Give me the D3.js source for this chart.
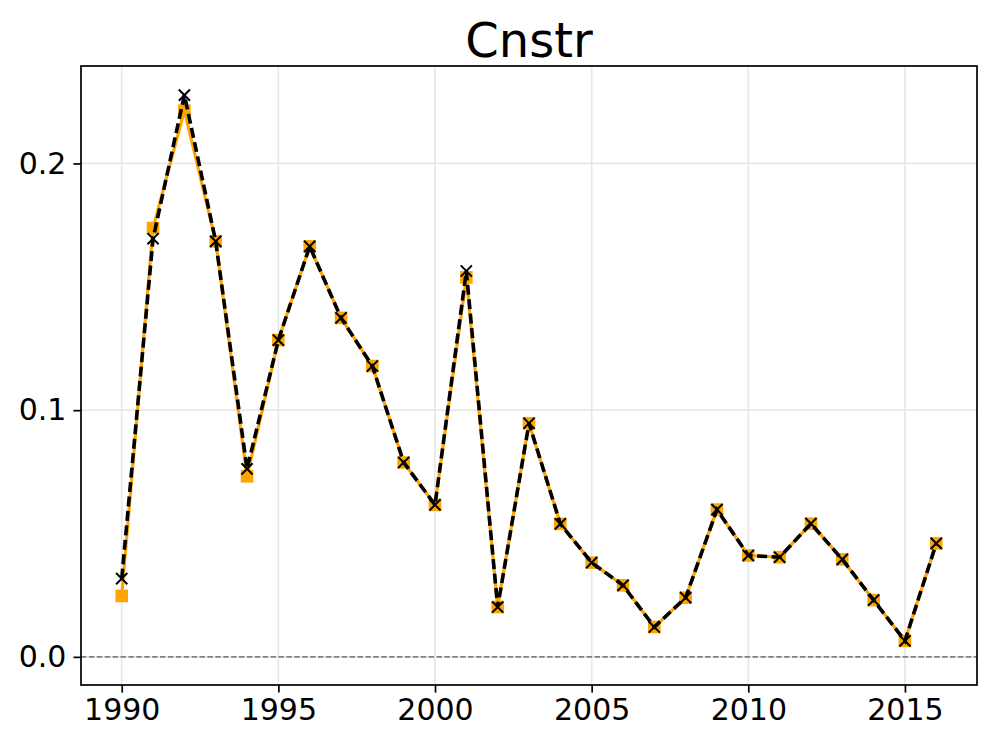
<!DOCTYPE html>
<html>
<head>
<meta charset="utf-8">
<script src="https://cdn.jsdelivr.net/npm/d3@7"></script>
<style>
  html, body { margin: 0; padding: 0; background: #fff; }
  svg { display: block; font-family: "DejaVu Sans", sans-serif; }
</style>
</head>
<body>
<svg id="chart" width="996" height="747"></svg>
<script>
const title = "Cnstr";
const years = [1990,1991,1992,1993,1994,1995,1996,1997,1998,1999,2000,2001,2002,2003,2004,2005,2006,2007,2008,2009,2010,2011,2012,2013,2014,2015,2016];
const seriesOrange = [0.0247,0.1738,0.2214,0.1684,0.0732,0.1284,0.1664,0.1374,0.1179,0.0788,0.0616,0.1538,0.0202,0.0947,0.0539,0.0382,0.0290,0.0121,0.0240,0.0597,0.0411,0.0404,0.0540,0.0395,0.0230,0.0065,0.0460];
const seriesBlack  = [0.0317,0.1695,0.2277,0.1684,0.0762,0.1284,0.1664,0.1374,0.1179,0.0788,0.0616,0.1564,0.0202,0.0947,0.0539,0.0382,0.0290,0.0121,0.0240,0.0597,0.0411,0.0404,0.0540,0.0395,0.0230,0.0065,0.0460];
const xTicks = [1990,1995,2000,2005,2010,2015];
const yTicks = [0.0,0.1,0.2];

const svg = d3.select("#chart");
const L = 81, R = 977, T = 66, B = 685;

const x = d3.scaleLinear().domain([1988.7, 2017.3]).range([L, R]);
const yMin = -0.0114, yMax = 0.2395;
const y = d3.scaleLinear().domain([yMin, yMax]).range([B, T]);

// grid
const g = svg.append("g");
g.selectAll(".vg").data(xTicks).enter().append("line")
  .attr("x1", d => x(d)).attr("x2", d => x(d))
  .attr("y1", T).attr("y2", B)
  .attr("stroke", "#e8e8e8").attr("stroke-width", 1.7);
g.selectAll(".hg").data(yTicks).enter().append("line")
  .attr("x1", L).attr("x2", R)
  .attr("y1", d => y(d)).attr("y2", d => y(d))
  .attr("stroke", "#e8e8e8").attr("stroke-width", 1.7);

// zero line
svg.append("line")
  .attr("x1", L).attr("x2", R)
  .attr("y1", y(0)).attr("y2", y(0))
  .attr("stroke", "#808080").attr("stroke-width", 1.6)
  .attr("stroke-dasharray", "5.5,2.4");

const clip = svg.append("defs").append("clipPath").attr("id", "clip")
  .append("rect").attr("x", L).attr("y", T).attr("width", R - L).attr("height", B - T);
const plot = svg.append("g").attr("clip-path", "url(#clip)");

const line = d3.line().x((d, i) => x(years[i])).y(d => y(d));

// orange series
plot.append("path").datum(seriesOrange)
  .attr("d", line).attr("fill", "none")
  .attr("stroke", "#FFA500").attr("stroke-width", 3.2)
  .attr("stroke-linejoin", "round");
const sq = 12.6;
plot.selectAll(".sq").data(seriesOrange).enter().append("rect")
  .attr("x", (d, i) => x(years[i]) - sq / 2)
  .attr("y", d => y(d) - sq / 2)
  .attr("width", sq).attr("height", sq)
  .attr("fill", "#FFA500");

// black dashed series
plot.append("path").datum(seriesBlack)
  .attr("d", line).attr("fill", "none")
  .attr("stroke", "#000").attr("stroke-width", 3.6)
  .attr("stroke-dasharray", "10,4.5");
const xs = 5.6;
const xm = plot.selectAll(".xm").data(seriesBlack).enter().append("path")
  .attr("d", (d, i) => {
    const cx = x(years[i]), cy = y(d);
    return `M${cx - xs},${cy - xs}L${cx + xs},${cy + xs}M${cx - xs},${cy + xs}L${cx + xs},${cy - xs}`;
  })
  .attr("stroke", "#000").attr("stroke-width", 2).attr("fill", "none");

// axes
const xAxis = d3.axisBottom(x).tickValues(xTicks).tickFormat(d3.format("d"))
  .tickSize(7.6).tickPadding(6);
const yAxis = d3.axisLeft(y).tickValues(yTicks).tickFormat(d3.format(".1f"))
  .tickSize(7.6).tickPadding(7);

const gx = svg.append("g").attr("transform", `translate(0,${B})`).call(xAxis);
const gy = svg.append("g").attr("transform", `translate(${L},0)`).call(yAxis);
[gx, gy].forEach(a => {
  a.select(".domain").remove();
  a.selectAll(".tick line").attr("stroke", "#000").attr("stroke-width", 1.7);
  a.selectAll(".tick text").attr("fill", "#000")
    .style("font-family", "'DejaVu Sans', sans-serif").style("font-size", "30px");
});

// frame
svg.append("rect").attr("x", L).attr("y", T).attr("width", R - L).attr("height", B - T)
  .attr("fill", "none").attr("stroke", "#000").attr("stroke-width", 1.7);

// title
svg.append("text").attr("x", (L + R) / 2).attr("y", 57)
  .attr("text-anchor", "middle")
  .style("font-family", "'DejaVu Sans', sans-serif").style("font-size", "48px")
  .attr("fill", "#000").text(title);
</script>
</body>
</html>
